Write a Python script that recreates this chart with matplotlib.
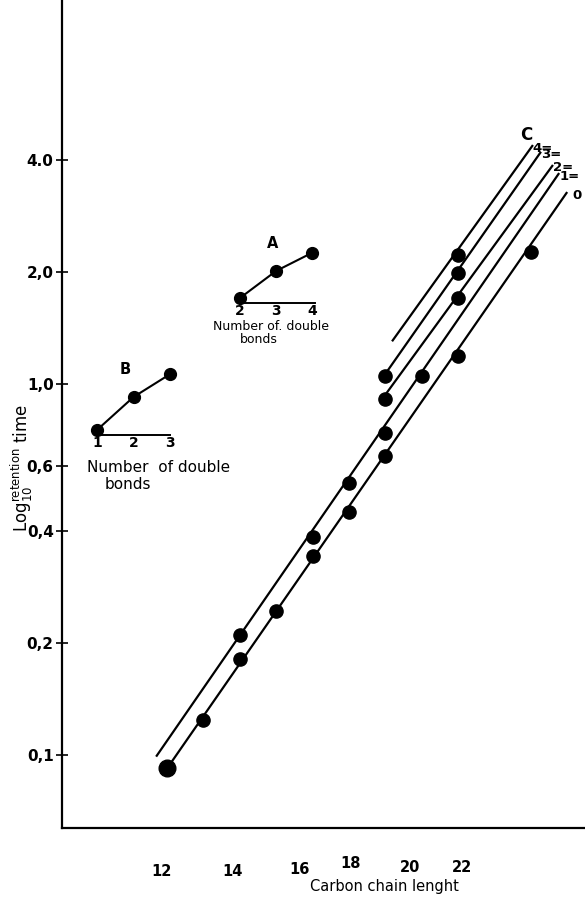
import matplotlib
matplotlib.use('Agg')
import matplotlib.pyplot as plt
from matplotlib.ticker import NullLocator
from matplotlib.transforms import ScaledTranslation

# log retention time vs carbon chain length
carbon_0 = [12, 13, 14, 15, 16, 17, 18, 20, 22]
rt_0 = [0.092, 0.124, 0.181, 0.244, 0.344, 0.451, 0.638, 1.19, 2.26]
carbon_1 = [14, 16, 17, 18, 19]
rt_1 = [0.210, 0.386, 0.539, 0.736, 1.05]
carbon_2 = [18, 20]
rt_2 = [0.909, 1.70]
carbon_3 = [18, 20]
rt_3 = [1.05, 1.99]
carbon_4 = [20]
rt_4 = [2.22]

# hand drawn lines (start / end)
line_names = ['0', '1=', '2=', '3=', '4=']
line_c0 = [12.0, 11.70, 17.91, 17.96, 18.18]
line_c1 = [22.99, 22.77, 22.60, 22.27, 22.05]
line_v0 = [0.092, 0.099, 0.909, 1.05, 1.30]
line_v1 = [3.28, 3.69, 3.88, 4.21, 4.39]

ytick_vals = [0.1, 0.2, 0.4, 0.6, 1.0, 2.0, 4.0]
ytick_labels = ['0,1', '0,2', '0,4', '0,6', '1,0', '2,0', '4.0']
xtick_labels = ['12', '14', '16', '18', '20', '22']
xtick_pos = [11.86, 13.79, 15.65, 17.03, 18.68, 20.10]  # where the labels sit
xtick_dy = [0, 0, 2, 8, 4, 4]  # px, hand lettering is not level

# insets
bonds_A = [2, 3, 4]
rt_A = [1.70, 2.01, 2.25]
bonds_B = [1, 2, 3]
rt_B = [0.75, 0.92, 1.06]

W, H = 585, 897
fig = plt.figure(figsize=(W / 100, H / 100), dpi=100)
plt.rcParams['mathtext.default'] = 'regular'


def px_box(left, top, right, bottom):
    return [left / W, 1 - bottom / H, (right - left) / W, (bottom - top) / H]


ax = fig.add_axes(px_box(62, 0, 585, 828))
ax.set_yscale('log')
ax.set_xlim(9.115, 23.48)
ax.set_ylim(0.0636, 10.79)
ax.patch.set_alpha(0)
for s in ['top', 'right']:
    ax.spines[s].set_visible(False)
for s in ['left', 'bottom']:
    ax.spines[s].set_linewidth(1.6)

ax.set_yticks(ytick_vals)
ax.set_yticklabels(ytick_labels, fontsize=11, fontweight='bold')
ax.yaxis.set_minor_locator(NullLocator())
ax.tick_params(axis='y', direction='inout', length=8, width=1.2, pad=2)
ax.set_xticks(xtick_pos)
ax.set_xticklabels(xtick_labels, fontsize=10.5, fontweight='bold')
ax.tick_params(axis='x', length=0, pad=26)
for t, dy in zip(ax.xaxis.get_major_ticks(), xtick_dy):
    t.label1.set_transform(t.label1.get_transform()
                           + ScaledTranslation(0, dy / 100, fig.dpi_scale_trans))

for c0, c1, v0, v1, name in zip(line_c0, line_c1, line_v0, line_v1, line_names):
    ax.plot([c0, c1], [v0, v1], color='k', lw=1.6, solid_capstyle='butt')
    ax.annotate(name, xy=(c1, v1), xytext=(10, -3), textcoords='offset pixels',
                ha='center', va='center', fontsize=9.5, fontweight='bold')
ax.annotate('C', xy=(line_c1[-1], line_v1[-1]), xytext=(-7, 10),
            textcoords='offset pixels', ha='center', va='center',
            fontsize=12, fontweight='bold')

dot = dict(marker='o', ls='none', color='k', ms=9.5)
ax.plot(carbon_0[1:], rt_0[1:], **dot)
ax.plot(carbon_0[:1], rt_0[:1], marker='o', ls='none', color='k', ms=12)
ax.plot(carbon_1, rt_1, **dot)
ax.plot(carbon_2, rt_2, **dot)
ax.plot(carbon_3, rt_3, **dot)
ax.plot(carbon_4, rt_4, **dot)

fig.text(384 / W, 1 - 886 / H, 'Carbon chain lenght', ha='center', va='center',
         fontsize=10.5)
fig.text(22 / W, 1 - 468 / H, 'Log$_{10}^{retention}$ time', rotation=90,
         ha='center', va='center', fontsize=12)


def inset(box, bonds, rt, xlim, ylim, name, name_xy, text_rows, size):
    a = fig.add_axes(px_box(*box))
    a.set_yscale('log')
    a.set_xlim(*xlim)
    a.set_ylim(*ylim)
    a.patch.set_alpha(0)
    for s in ['top', 'right', 'left']:
        a.spines[s].set_visible(False)
    a.spines['bottom'].set_linewidth(1.4)
    a.set_yticks([])
    a.yaxis.set_minor_locator(NullLocator())
    a.set_xticks(bonds)
    a.set_xticklabels([str(b) for b in bonds], fontsize=10, fontweight='bold')
    a.tick_params(axis='x', length=0, pad=1)
    a.plot(bonds, rt, color='k', lw=1.5, marker='o', ms=8.5, clip_on=False)
    a.text(name_xy[0], name_xy[1], name, transform=a.transAxes, ha='center',
           va='center', fontsize=10.5, fontweight='bold')
    for txt, tx, ty in text_rows:
        a.text(tx, ty, txt, transform=a.transAxes, ha='left', va='center',
               fontsize=size)
    return a


inset((240, 238, 315, 303), bonds_A, rt_A, (2, 4.08), (1.648, 2.466), 'A',
      (0.43, 0.92), [('Number of. double', -0.36, -0.36), ('bonds', 0.0, -0.56)], 9)
inset((97, 365, 170, 435), bonds_B, rt_B, (1, 3.0), (0.727, 1.122), 'B',
      (0.38, 0.93), [('Number  of double', -0.14, -0.46), ('bonds', 0.11, -0.71)], 11)

fig.savefig('out.png', dpi=100)
